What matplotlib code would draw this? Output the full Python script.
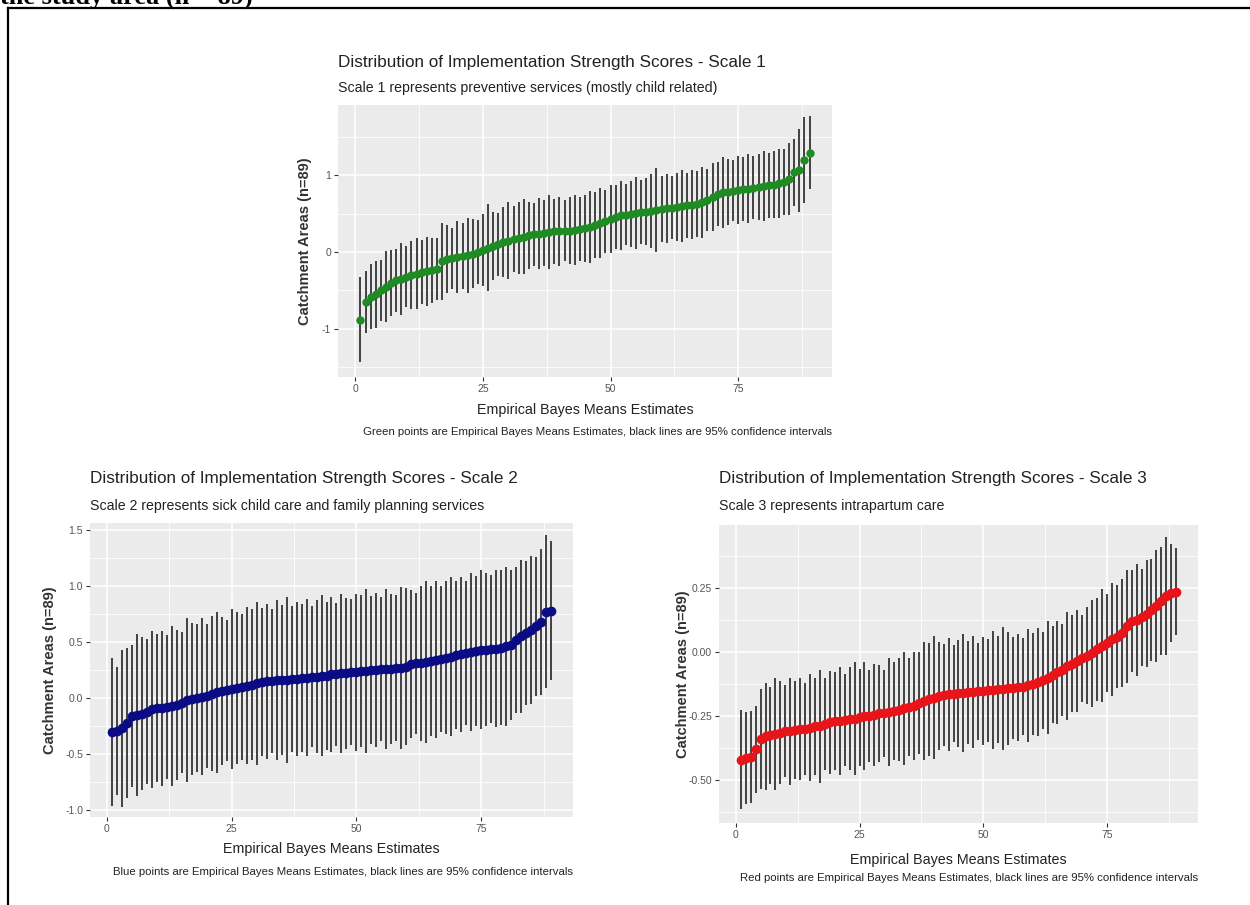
import numpy as np
import matplotlib
matplotlib.use("Agg")
import matplotlib.pyplot as plt
from matplotlib.lines import Line2D
from matplotlib.ticker import FixedLocator, FormatStrFormatter

plt.rcParams['font.family'] = ['Liberation Sans', 'DejaVu Sans']
plt.rcParams['axes.unicode_minus'] = False

W, H = 1250, 905

areas = np.arange(1, 90)

# scale 1: preventive services
est1 = [-0.88, -0.65, -0.58, -0.55, -0.50, -0.45, -0.40, -0.37, -0.35, -0.32,
        -0.30, -0.28, -0.26, -0.25, -0.24, -0.22, -0.12, -0.09, -0.08, -0.06,
        -0.05, -0.04, -0.02, 0.00, 0.03, 0.06, 0.08, 0.10, 0.13, 0.15,
        0.17, 0.19, 0.20, 0.22, 0.23, 0.24, 0.25, 0.26, 0.27, 0.27,
        0.28, 0.28, 0.29, 0.30, 0.31, 0.33, 0.35, 0.38, 0.40, 0.43,
        0.46, 0.48, 0.49, 0.50, 0.51, 0.52, 0.53, 0.54, 0.55, 0.56,
        0.57, 0.58, 0.59, 0.60, 0.61, 0.62, 0.63, 0.65, 0.68, 0.72,
        0.76, 0.78, 0.79, 0.80, 0.81, 0.82, 0.83, 0.84, 0.85, 0.86,
        0.87, 0.88, 0.90, 0.92, 0.96, 1.04, 1.07, 1.20, 1.30]
hw1 = [0.55, 0.40, 0.42, 0.44, 0.40, 0.46, 0.43, 0.41, 0.47, 0.40,
       0.44, 0.46, 0.42, 0.45, 0.43, 0.41, 0.50, 0.44, 0.40, 0.47,
       0.43, 0.49, 0.45, 0.42, 0.47, 0.57, 0.44, 0.41, 0.46, 0.50,
       0.43, 0.47, 0.49, 0.44, 0.41, 0.46, 0.43, 0.48, 0.42, 0.45,
       0.40, 0.44, 0.46, 0.42, 0.44, 0.47, 0.43, 0.46, 0.41, 0.44,
       0.42, 0.45, 0.40, 0.43, 0.47, 0.42, 0.44, 0.48, 0.55, 0.43,
       0.45, 0.41, 0.44, 0.47, 0.42, 0.45, 0.43, 0.46, 0.41, 0.44,
       0.42, 0.46, 0.43, 0.40, 0.44, 0.42, 0.45, 0.41, 0.43, 0.46,
       0.42, 0.44, 0.45, 0.43, 0.47, 0.44, 0.54, 0.56, 0.47]

# scale 2: sick child care and family planning
est2 = [-0.30, -0.29, -0.27, -0.22, -0.16, -0.15, -0.14, -0.12, -0.10, -0.09,
        -0.09, -0.08, -0.07, -0.06, -0.04, -0.02, -0.01, 0.00, 0.01, 0.02,
        0.04, 0.05, 0.06, 0.07, 0.08, 0.09, 0.10, 0.11, 0.12, 0.13,
        0.14, 0.15, 0.15, 0.16, 0.16, 0.16, 0.17, 0.17, 0.18, 0.18,
        0.19, 0.19, 0.20, 0.20, 0.21, 0.21, 0.22, 0.22, 0.23, 0.23,
        0.24, 0.24, 0.25, 0.25, 0.26, 0.26, 0.26, 0.27, 0.27, 0.28,
        0.30, 0.31, 0.31, 0.32, 0.33, 0.34, 0.35, 0.36, 0.37, 0.38,
        0.39, 0.40, 0.41, 0.42, 0.43, 0.43, 0.44, 0.44, 0.45, 0.46,
        0.47, 0.52, 0.55, 0.58, 0.61, 0.64, 0.68, 0.77, 0.78]
hw2 = [0.66, 0.57, 0.70, 0.67, 0.63, 0.72, 0.68, 0.65, 0.70, 0.66,
       0.69, 0.64, 0.71, 0.67, 0.63, 0.73, 0.68, 0.66, 0.70, 0.64,
       0.69, 0.72, 0.66, 0.63, 0.71, 0.68, 0.65, 0.70, 0.67, 0.73,
       0.66, 0.69, 0.64, 0.71, 0.67, 0.74, 0.65, 0.69, 0.66, 0.70,
       0.63, 0.68, 0.72, 0.66, 0.69, 0.64, 0.71, 0.67, 0.65, 0.70,
       0.68, 0.73, 0.66, 0.69, 0.64, 0.71, 0.67, 0.65, 0.72, 0.70,
       0.66, 0.63, 0.69, 0.72, 0.67, 0.70, 0.65, 0.68, 0.71, 0.66,
       0.69, 0.64, 0.70, 0.67, 0.71, 0.68, 0.66, 0.70, 0.69, 0.71,
       0.67, 0.65, 0.68, 0.64, 0.66, 0.62, 0.65, 0.68, 0.62]

# scale 3: intrapartum care
est3 = [-0.42, -0.415, -0.41, -0.38, -0.34, -0.33, -0.325, -0.32, -0.315, -0.31,
        -0.31, -0.305, -0.30, -0.30, -0.295, -0.29, -0.29, -0.28, -0.275, -0.27,
        -0.27, -0.265, -0.26, -0.26, -0.255, -0.25, -0.25, -0.245, -0.24, -0.24,
        -0.235, -0.23, -0.225, -0.22, -0.215, -0.21, -0.20, -0.19, -0.185, -0.178,
        -0.172, -0.168, -0.165, -0.163, -0.162, -0.16, -0.158, -0.156, -0.154, -0.152,
        -0.15, -0.148, -0.146, -0.144, -0.142, -0.14, -0.138, -0.135, -0.13, -0.125,
        -0.118, -0.11, -0.10, -0.088, -0.08, -0.07, -0.055, -0.045, -0.035, -0.025,
        -0.015, -0.005, 0.01, 0.025, 0.035, 0.05, 0.06, 0.075, 0.10, 0.12,
        0.125, 0.135, 0.15, 0.165, 0.18, 0.20, 0.22, 0.23, 0.235]
hw3 = [0.195, 0.18, 0.18, 0.17, 0.195, 0.21, 0.19, 0.22, 0.20, 0.18,
       0.21, 0.19, 0.20, 0.18, 0.21, 0.19, 0.22, 0.18, 0.20, 0.19,
       0.21, 0.18, 0.20, 0.22, 0.19, 0.21, 0.18, 0.20, 0.19, 0.17,
       0.21, 0.19, 0.20, 0.22, 0.19, 0.21, 0.20, 0.23, 0.22, 0.24,
       0.21, 0.20, 0.22, 0.19, 0.21, 0.23, 0.20, 0.22, 0.19, 0.21,
       0.20, 0.23, 0.21, 0.24, 0.22, 0.20, 0.21, 0.19, 0.22, 0.20,
       0.21, 0.19, 0.22, 0.19, 0.20, 0.18, 0.21, 0.19, 0.20, 0.17,
       0.19, 0.21, 0.20, 0.22, 0.19, 0.22, 0.20, 0.21, 0.22, 0.20,
       0.22, 0.19, 0.21, 0.20, 0.22, 0.21, 0.23, 0.19, 0.17]

panels = [
    dict(est=est1, hw=hw1, color='#1e8b23', ms=6,
         box=(338, 105, 832, 377), xlim=(-3.4, 93.4), ylim=(-1.63, 1.92),
         yticks=[-1, 0, 1], yfmt='%d',
         title='Distribution of Implementation Strength Scores - Scale 1',
         subtitle='Scale 1 represents preventive services (mostly child related)',
         caption='Green points are Empirical Bayes Means Estimates, black lines are 95% confidence intervals',
         title_y=63, sub_y=88, ylab_x=305, xlab_y=410, cap_y=432),
    dict(est=est2, hw=hw2, color='#0b0b86', ms=7,
         box=(90, 523, 573, 817), xlim=(-3.4, 93.4), ylim=(-1.06, 1.56),
         yticks=[-1.0, -0.5, 0.0, 0.5, 1.0, 1.5], yfmt='%.1f',
         title='Distribution of Implementation Strength Scores - Scale 2',
         subtitle='Scale 2 represents sick child care and family planning services',
         caption='Blue points are Empirical Bayes Means Estimates, black lines are 95% confidence intervals',
         title_y=478, sub_y=506, ylab_x=50, xlab_y=849, cap_y=872),
    dict(est=est3, hw=hw3, color='#e8141a', ms=7,
         box=(719, 525, 1198, 823), xlim=(-3.4, 93.4), ylim=(-0.668, 0.496),
         yticks=[-0.5, -0.25, 0.0, 0.25], yfmt='%.2f',
         title='Distribution of Implementation Strength Scores - Scale 3',
         subtitle='Scale 3 represents intrapartum care',
         caption='Red points are Empirical Bayes Means Estimates, black lines are 95% confidence intervals',
         title_y=479, sub_y=506, ylab_x=683, xlab_y=860, cap_y=878),
]


def fx(x):
    return x / W


def fy(y):
    return 1 - y / H


fig = plt.figure(figsize=(W / 100, H / 100), dpi=100)

for p in panels:
    l, t, r, b = p['box']
    ax = fig.add_axes([fx(l), fy(b), (r - l) / W, (b - t) / H])
    ax.set_facecolor('#ebebeb')
    est = np.array(p['est'])
    hw = np.array(p['hw'])
    # 95% intervals as plain vertical segments, estimates on top
    ax.vlines(areas, est - hw, est + hw, color='#3a3a3a', lw=1.35, zorder=3)
    ax.plot(areas, est, 'o', color=p['color'], ms=p['ms'], mew=0, zorder=4)

    ax.set_xlim(*p['xlim'])
    ax.set_ylim(*p['ylim'])
    ax.xaxis.set_major_locator(FixedLocator([0, 25, 50, 75]))
    ax.xaxis.set_minor_locator(FixedLocator([12.5, 37.5, 62.5, 87.5]))
    yt = p['yticks']
    step = yt[1] - yt[0]
    ax.yaxis.set_major_locator(FixedLocator(yt))
    ax.yaxis.set_minor_locator(FixedLocator([v + step / 2 for v in [yt[0] - step] + yt]))
    ax.yaxis.set_major_formatter(FormatStrFormatter(p['yfmt']))
    ax.grid(which='major', color='white', lw=1.1, zorder=0)
    ax.grid(which='minor', color='white', lw=0.55, zorder=0)
    ax.set_axisbelow(True)
    for s in ax.spines.values():
        s.set_visible(False)
    ax.tick_params(which='major', length=3, width=0.8, color='#333333',
                   labelsize=7.5, labelcolor='#555555', pad=2)
    ax.tick_params(which='minor', length=0)

    fig.text(fx(l), fy(p['title_y']), p['title'], fontsize=12.3,
             color='#222222', va='center', ha='left')
    fig.text(fx(l), fy(p['sub_y']), p['subtitle'], fontsize=10.2,
             color='#222222', va='center', ha='left')
    fig.text(fx(p['ylab_x']), fy((t + b) / 2), 'Catchment Areas (n=89)',
             fontsize=10.5, color='#333333', rotation=90, va='center', ha='center',
             fontweight='bold')
    fig.text(fx((l + r) / 2), fy(p['xlab_y']), 'Empirical Bayes Means Estimates',
             fontsize=10.3, color='#222222', va='center', ha='center')
    fig.text(fx(r), fy(p['cap_y']), p['caption'], fontsize=8.2,
             color='#222222', va='center', ha='right')

# document frame and the cut-off heading above it
fig.add_artist(Line2D([fx(8), 1], [fy(8), fy(8)], color='black', lw=1.6))
fig.add_artist(Line2D([fx(8), fx(8)], [fy(8), 0], color='black', lw=1.6))
fig.text(0.0, fy(4), 'the study area (n = 89)', fontsize=19, fontweight='bold',
         family='Liberation Serif', va='baseline', ha='left')

fig.savefig('out.png', dpi=100)
